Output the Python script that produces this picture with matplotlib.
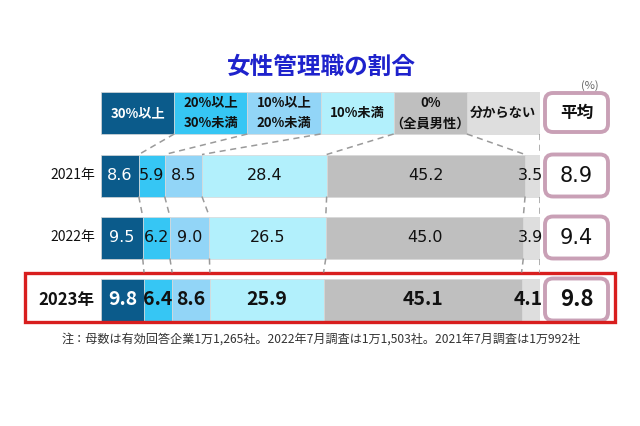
import matplotlib
matplotlib.use("Agg")
import matplotlib.pyplot as plt
from matplotlib.patches import FancyBboxPatch, Rectangle
import numpy as np

plt.rcParams['font.family'] = ['Noto Sans CJK JP', 'DejaVu Sans']

# ---- data ----
years = ["2021年", "2022年", "2023年"]
categories = ["30%以上", "20%以上\n30%未満", "10%以上\n20%未満", "10%未満", "0%\n（全員男性）", "分からない"]
v2021 = [8.6, 5.9, 8.5, 28.4, 45.2, 3.5]
v2022 = [9.5, 6.2, 9.0, 26.5, 45.0, 3.9]
v2023 = [9.8, 6.4, 8.6, 25.9, 45.1, 4.1]
averages = [8.9, 9.4, 9.8]
avg_label = "平均"
title = "女性管理職の割合"
note = "注：母数は有効回答企業1万1,265社。2022年7月調査は1万1,503社。2021年7月調査は1万992社"

colors = ["#0b5b8b", "#36c6f4", "#92d5f7", "#b2f0fc", "#bfbfbf", "#dedede"]
header_text_colors = ["white", "#111111", "#111111", "#111111", "#111111", "#111111"]

W, H = 640, 426
fig = plt.figure(figsize=(W / 100, H / 100), dpi=100)
x0, x1 = 101, 540
ax = fig.add_axes([x0 / W, 0, (x1 - x0) / W, 1])
ax.set_xlim(0, 100)
ax.set_ylim(H, 0)
ax.axis("off")
px = 100 / (x1 - x0)  # percent per pixel

# header row
hy, hh = 113, 42
ncat = len(categories)
hw = 100 / ncat
hbounds = np.arange(ncat + 1) * hw
ax.barh([hy] * ncat, [hw] * ncat, left=hbounds[:-1], height=hh, color=colors,
        edgecolor="#d8d8d8", linewidth=0.5)
for i, c in enumerate(categories):
    ax.text(hbounds[i] + hw / 2, hy, c, ha="center", va="center", fontsize=9.5,
            fontweight="bold", color=header_text_colors[i], linespacing=1.6)

# data bars
rows = [v2021, v2022, v2023]
ycent = [175.5, 237.5, 299.5]
bh = 42
bold = [False, False, True]
cums = []
for r, (vals, yc) in enumerate(zip(rows, ycent)):
    vals = np.array(vals)
    left = np.concatenate([[0], np.cumsum(vals)[:-1]])
    cums.append(np.concatenate([[0], np.cumsum(vals)]))
    ax.barh([yc] * len(vals), vals, left=left, height=bh, color=colors,
            edgecolor="#d8d8d8", linewidth=0.5)
    fs = 14 if bold[r] else 11.5
    fw = "bold" if bold[r] else "normal"
    fam = None if bold[r] else ["DejaVu Sans"]
    for i, v in enumerate(vals):
        col = "white" if i == 0 else "#111111"
        if i == len(vals) - 1:
            ax.text(100.6, yc, f"{v:.1f}", ha="right", va="center", fontsize=fs,
                    fontweight=fw, color=col, family=fam)
        else:
            ax.text(left[i] + v / 2, yc, f"{v:.1f}", ha="center", va="center",
                    fontsize=fs, fontweight=fw, color=col, family=fam)
    ax.text(-1.4, yc, years[r], ha="right", va="center",
            fontsize=12 if bold[r] else 10, fontweight=fw, color="#111111")

# dashed connectors
dcol = "#9a9a9a"
tops = [yc - bh / 2 for yc in ycent]
bots = [yc + bh / 2 for yc in ycent]
for k in range(1, ncat + 1):
    xb = 100 if k == ncat else cums[0][k]
    ax.plot([hbounds[k], xb], [hy + hh / 2, tops[0]], ls=(0, (4, 3)), color=dcol, lw=1.1)
for r in range(len(rows) - 1):
    for k in range(1, ncat + 1):
        xa = 100 if k == ncat else cums[r][k]
        xb = 100 if k == ncat else cums[r + 1][k]
        ax.plot([xa, xb], [bots[r], tops[r + 1] - (6 if r == 1 else 0)], ls=(0, (4, 3)), color=dcol, lw=1.1)

# average boxes
bx0, bx1 = (545 - x0) * px, (608 - x0) * px
asp = 1 / px
def avg_box(yc, h):
    p = FancyBboxPatch((bx0, yc - h / 2), bx1 - bx0, h,
                       boxstyle=f"round,pad=0,rounding_size={8 * px}",
                       mutation_aspect=asp, facecolor="white", edgecolor="#c9a0b6",
                       linewidth=2.8, clip_on=False)
    ax.add_patch(p)
avg_box(112.5, 39)
ax.text((bx0 + bx1) / 2, 113, avg_label, ha="center", va="center", fontsize=12,
        fontweight="bold", color="#111111")
for r, (a, yc) in enumerate(zip(averages, ycent)):
    avg_box(yc, 42)
    ax.text((bx0 + bx1) / 2, yc, f"{a:.1f}", ha="center", va="center",
            fontsize=16 if bold[r] else 15, fontweight="bold" if bold[r] else "normal",
            color="#111111", family=["DejaVu Sans"] if not bold[r] else None)
ax.text((590 - x0) * px, 86, "(%)", ha="center", va="center", fontsize=8, color="#666666")

# red highlight box
ax.add_patch(Rectangle(((25 - x0) * px, 273), (615 - 25) * px, 49, fill=False,
                       edgecolor="#d81e1e", linewidth=2.4, clip_on=False))

# title and note
ax.text((321 - x0) * px, 67, title, ha="center", va="center", fontsize=17,
        fontweight="bold", color="#1e22cc")
ax.text((321 - x0) * px, 339, note, ha="center", va="center", fontsize=8.7, color="#333333")

fig.savefig("out.png", dpi=100, facecolor="white")
